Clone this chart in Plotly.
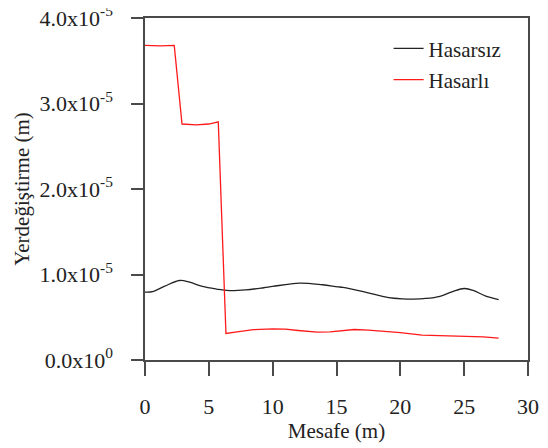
import plotly.graph_objects as go

# Hasarsız (undamaged) series, x in m, y in 1e-5 m
x_hasarsiz = [0, 0.6, 1.5, 2.7, 3.5, 4.5, 5.6, 6.6, 7.9, 9.3, 10.0, 12.1, 13.9, 15.1, 15.5, 17.1, 18.6, 19.5, 20.2, 21.0, 22.0, 23.1, 24.1, 25.0, 25.7, 26.7, 27.7]
y_hasarsiz = [0.795, 0.80, 0.86, 0.93, 0.91, 0.86, 0.83, 0.812, 0.82, 0.845, 0.86, 0.90, 0.88, 0.856, 0.85, 0.80, 0.745, 0.722, 0.715, 0.713, 0.72, 0.745, 0.80, 0.836, 0.815, 0.746, 0.707]

# Hasarlı (damaged) series
x_hasarli = [0, 1.2, 2.29, 2.9, 4.0, 5.0, 5.74, 6.34, 7.5, 8.5, 10.0, 11.0, 12.0, 13.5, 14.5, 16.4, 17.5, 19.1, 20.0, 21.7, 23.5, 25.1, 26.5, 27.7]
y_hasarli = [3.68, 3.675, 3.68, 2.76, 2.75, 2.76, 2.785, 0.31, 0.335, 0.355, 0.365, 0.36, 0.345, 0.325, 0.33, 0.357, 0.35, 0.335, 0.32, 0.29, 0.285, 0.28, 0.27, 0.255]

y_tickvals = [0, 1e-5, 2e-5, 3e-5, 4e-5]
y_ticktext = ["0.0x10<sup>0</sup>", "1.0x10<sup>-5</sup>", "2.0x10<sup>-5</sup>", "3.0x10<sup>-5</sup>", "4.0x10<sup>-5</sup>"]
x_tickvals = [0, 5, 10, 15, 20, 25, 30]

scale = 1e-5
font_family = "'Liberation Serif', 'DejaVu Serif', serif"
axis_color = "#4a4a4a"
text_color = "#222222"

fig = go.Figure()
fig.add_trace(go.Scatter(
    x=x_hasarsiz, y=[v * scale for v in y_hasarsiz], mode="lines", name="Hasarsız",
    legendgroup="a",
    line=dict(color="#222222", width=1.3, shape="spline", smoothing=1.0),
))
fig.add_trace(go.Scatter(
    x=x_hasarli, y=[v * scale for v in y_hasarli], mode="lines", name="Hasarlı",
    legendgroup="b",
    line=dict(color="#ff1a1a", width=1.3),
))

# the page body has an 8px default margin, compensated in the margins below
fig.update_layout(
    width=548, height=448,
    margin=dict(l=137, r=28, t=10, b=96, autoexpand=False),
    paper_bgcolor="white", plot_bgcolor="white",
    font=dict(family=font_family, size=21, color=text_color),
    showlegend=True,
    legend=dict(x=0.636, y=0.97, xanchor="left", yanchor="top", bgcolor="rgba(0,0,0,0)",
                font=dict(family=font_family, size=21), traceorder="grouped", tracegroupgap=1,
                itemwidth=30),
    xaxis=dict(
        range=[0, 30], tickvals=x_tickvals, ticks="outside", ticklen=14, tickwidth=1.5,
        tickcolor=axis_color, showline=True, linecolor=axis_color, linewidth=1.5, mirror=True,
        showgrid=False, zeroline=False, automargin=False, ticklabelstandoff=12,
        ticklabeloverflow="allow",
        title=dict(text="Mesafe (m)", font=dict(family=font_family, size=21), standoff=2),
        tickfont=dict(family=font_family, size=22),
    ),
    yaxis=dict(
        range=[0, 4e-5], tickvals=y_tickvals, ticktext=y_ticktext, ticks="outside", ticklen=12,
        tickwidth=1.5, tickcolor=axis_color, showline=True, linecolor=axis_color, linewidth=1.5,
        mirror=True, showgrid=False, zeroline=False, automargin=False, ticklabelstandoff=14,
        ticklabeloverflow="allow",
        title=dict(text="Yerdeğiştirme (m)", font=dict(family=font_family, size=21), standoff=4),
        tickfont=dict(family=font_family, size=22),
    ),
)

fig.write_html("out.html")
